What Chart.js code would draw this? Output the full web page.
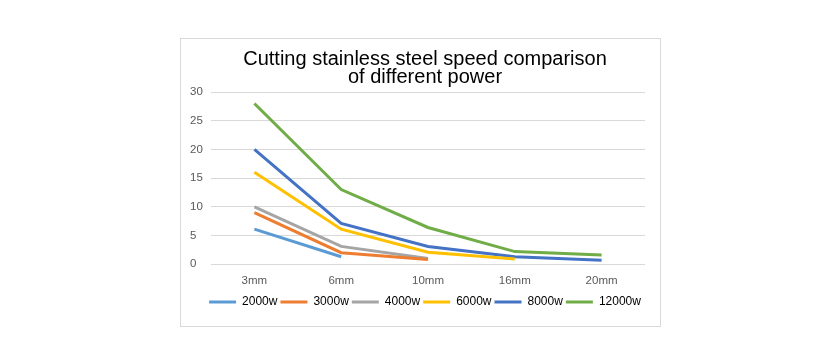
<!DOCTYPE html>
<html>
<head>
<meta charset="utf-8">
<script src="https://cdn.jsdelivr.net/npm/chart.js@4.4.0/dist/chart.umd.min.js"></script>
<style>
html,body{margin:0;padding:0;background:#fff;}
#box{position:absolute;left:180px;top:38px;width:479px;height:287px;border:1px solid #d9d9d9;background:#fff;}
#c{display:block;}
</style>
</head>
<body>
<div id="box"><canvas id="c" width="479" height="287"></canvas></div>
<script>
const categories = ["3mm", "6mm", "10mm", "16mm", "20mm"];
const seriesNames = ["2000w", "3000w", "4000w", "6000w", "8000w", "12000w"];
const s2000 = [6.1, 1.3, null, null, null];
const s3000 = [9.0, 2.0, 0.8, null, null];
const s4000 = [10.0, 3.1, 1.0, null, null];
const s6000 = [16.0, 6.1, 2.1, 0.9, null];
const s8000 = [20.0, 7.1, 3.1, 1.3, 0.7];
const s12000 = [28.0, 13.0, 6.4, 2.2, 1.6];
const yTicks = [0, 5, 10, 15, 20, 25, 30];
const titleLines = ["Cutting stainless steel speed comparison", "of different power"];

const colors = ["#5B9BD5", "#ED7D31", "#A5A5A5", "#FFC000", "#4472C4", "#70AD47"];
const seriesData = [s2000, s3000, s4000, s6000, s8000, s12000];

new Chart(document.getElementById('c'), {
  type: 'line',
  data: {
    labels: categories,
    datasets: seriesNames.map((n, i) => ({
      label: n,
      data: seriesData[i],
      borderColor: colors[i],
      backgroundColor: colors[i],
      borderWidth: 3,
      pointRadius: 0,
      tension: 0,
      spanGaps: false,
      borderCapStyle: 'butt'
    }))
  },
  options: {
    responsive: false,
    animation: false,
    devicePixelRatio: 1,
    layout: { padding: { left: 24, right: 15, top: 0, bottom: 8 } },
    plugins: {
      title: {
        display: true,
        text: titleLines,
        color: '#000',
        font: { family: 'Liberation Sans, Arial, sans-serif', size: 20, weight: 'normal', lineHeight: 0.9 },
        padding: { top: 11, bottom: 6 }
      },
      legend: {
        position: 'bottom',
        labels: {
          color: '#000',
          font: { family: 'Liberation Sans, Arial, sans-serif', size: 12 },
          boxWidth: 27,
          boxHeight: 3,
          padding: 3,
          generateLabels: (chart) => Chart.defaults.plugins.legend.labels.generateLabels(chart).map(it => Object.assign(it, { lineWidth: 1, strokeStyle: 'rgba(0,0,0,0)' }))
        }
      },
      tooltip: { enabled: false }
    },
    scales: {
      x: {
        offset: true,
        grid: { display: false },
        border: { display: false },
        afterFit: (ax) => { ax.height += 3; },
        ticks: { color: '#595959', font: { family: 'Liberation Sans, sans-serif', size: 11.5 }, padding: 2, maxRotation: 0 }
      },
      y: {
        min: 0, max: 30,
        afterBuildTicks: (ax) => { ax.ticks = yTicks.map(v => ({ value: v })); },
        afterFit: (ax) => { ax.width = 6; },
        grid: { color: '#d9d9d9', lineWidth: 1, drawTicks: false },
        border: { display: false },
        ticks: { color: '#595959', font: { family: 'Liberation Sans, sans-serif', size: 11.5 }, mirror: true, padding: -21 }
      }
    }
  }
});
</script>
</body>
</html>
